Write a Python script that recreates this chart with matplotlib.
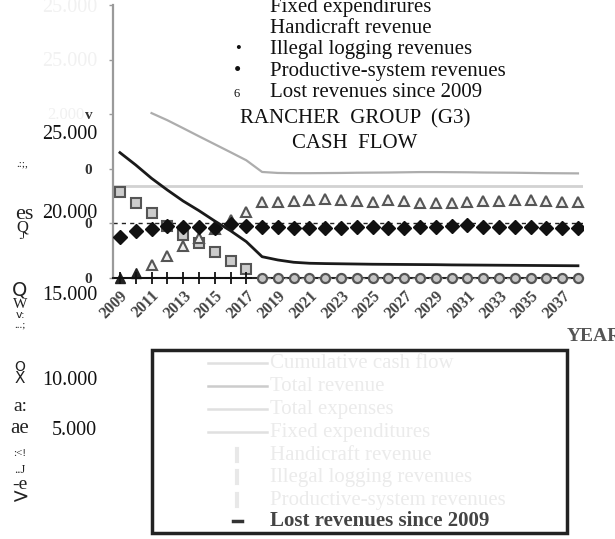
import matplotlib
matplotlib.use('Agg')
import matplotlib.pyplot as plt
from matplotlib.patches import Rectangle
from matplotlib.lines import Line2D

plt.rcParams['font.family'] = 'serif'
plt.rcParams['font.serif'] = ['Liberation Serif', 'DejaVu Serif']

nan = float('nan')
years = list(range(2009, 2039))
cumulative_cash = [11480, 10350, 9130, 8060, 7050, 6170, 5220, 4330, 3330, 1950, 1650, 1440,
                   1350, 1320, 1300, 1280, 1260, 1250, 1240, 1230, 1220, 1200, 1190, 1180,
                   1170, 1160, 1150, 1140, 1130, 1120]
fixed_expenditures = [nan, nan, 15100, 14450, 13720, 12980, 12250, 11520, 10780, 9710,
                      9620, 9600, 9600, 9610, 9620, 9640, 9650, 9660, 9680, 9700,
                      9700, 9690, 9680, 9660, 9650, 9640, 9620, 9600, 9590, 9580]
reference_level = 8450
dashed_level = 5000
productive_revenues = [3780, 4330, 4460, 4760, 4640, 4640, 4550, 4950, 4790, 4640, 4640, 4550,
                       4580, 4550, 4550, 4640, 4640, 4600, 4600, 4640, 4700, 4760, 4860, 4640,
                       4640, 4640, 4700, 4550, 4600, 4600]
illegal_logging = [7900, 6840, 5980, 4760, 3940, 3180, 2350, 1590, 790,
                   0, 0, 0, 0, 0, 0, 0, 0, 0, 0, 0, 0, 0, 0, 0, 0, 0, 0, 0, 0, 0]
handicraft = [0, 430, 1190, 2040, 2930, 3640, 4500, 5300, 6080, 6990,
              6990, 7050, 7140, 7210, 7140, 7050, 6990, 7140, 7050, 6900,
              6840, 6900, 6990, 7050, 7050, 7140, 7140, 7050, 6990, 7000]
lost_years = [2009, 2010, 2011, 2012, 2013, 2014, 2015, 2016, 2017]
lost_revenues = [0, 0, 0, 0, 0, 0, 0, 0, 0]

xtick_years = years[::2]
ytick_values = [0, 5000, 10000, 15000, 20000, 25000]
ytick_labels = ['0', '0', '0', 'v', '', '']
outer_labels = ['25.000', '20.000', '15.000', '10.000', '5.000']

top_legend = ['Fixed expendirures', 'Handicraft revenue', 'Illegal logging revenues',
              'Productive-system revenues', 'Lost revenues since 2009']
box_legend = ['Cumulative cash flow', 'Total revenue', 'Total expenses', 'Fixed expenditures',
              'Handicraft revenue', 'Illegal logging revenues', 'Productive-system revenues',
              'Lost revenues since 2009']

W, H = 615, 539
fig = plt.figure(figsize=(W / 100, H / 100), dpi=100)


def P(x, y):
    return (x / W, 1 - y / H)


# main axes: spine x=113, y from 5 (25000) to 278 (0)
ax = fig.add_axes([113 / W, 1 - 278 / H, 470 / W, 273 / H])
ax.set_xlim(2008.56, 2038.32)
ax.set_ylim(0, 25000)
for s in ['top', 'right']:
    ax.spines[s].set_visible(False)
ax.spines['left'].set_color('#9a9a9a')
ax.spines['left'].set_linewidth(1.6)
ax.spines['bottom'].set_color('#222222')
ax.spines['bottom'].set_linewidth(1.5)

ax.plot(years, fixed_expenditures, color='#adadad', lw=1.6, zorder=2)
ax.axhline(reference_level, color='#d2d2d2', lw=2.0, zorder=1)
ax.axhline(dashed_level, color='#222222', lw=1.0, ls=(0, (3, 3)), zorder=2)

ax.plot(years[:9], illegal_logging[:9], ls='none', marker='s', ms=6.5, mfc='#cccccc',
        mec='#555555', mew=1.5, zorder=4, clip_on=False)
ax.plot(years[9:], illegal_logging[9:], color='#888888', lw=1.0, ls=(0, (2, 2)),
        marker='o', ms=6.5, mfc='#c4c4c4', mec='#555555', mew=1.6, zorder=4, clip_on=False)
ax.plot(years[2:], handicraft[2:], ls='none', marker='^', ms=7.5, mfc='#eeeeee', mec='#555555',
        mew=1.5, zorder=4, clip_on=False)
ax.plot(years[:2], handicraft[:2], ls='none', marker='^', ms=7, mfc='#222222', mec='#222222',
        zorder=4, clip_on=False)
ax.plot(years, productive_revenues, ls='none', marker='D', ms=7, mfc='#111111',
        mec='#111111', zorder=5)
ax.plot(lost_years, lost_revenues, color='#111111', lw=1.2, marker='+', ms=8, mew=1.3,
        zorder=5, clip_on=False)
ax.plot(years, cumulative_cash, color='#1a1a1a', lw=2.0, zorder=6)

ax.set_xticks(xtick_years)
ax.set_xticklabels([str(y) for y in xtick_years], rotation=45, ha='right',
                   rotation_mode='anchor', fontsize=11.5, color='#444444', fontweight='bold')
ax.tick_params(axis='x', length=0, pad=7)
ax.set_yticks(ytick_values)
ax.set_yticklabels(ytick_labels, fontsize=11, color='#333333', fontweight='bold')
ax.tick_params(axis='y', length=3, width=1, color='#9a9a9a', pad=12)

# outer (garbled) y labels
outer_baselines = [139, 218, 300, 385, 435]
for lab, yb in zip(outer_labels, outer_baselines):
    fig.text(*P(97, yb), lab, ha='right', va='baseline', fontsize=14.5, color='#111111')

# ghost smudges left of the spine
for yb in [12, 66]:
    fig.text(*P(97, yb), '25.000', ha='right', va='baseline', fontsize=14.5, color='#f1f1f1')
fig.text(*P(84, 119), '2.000', ha='right', va='baseline', fontsize=12, color='#f1f1f1')

# garbled rotated axis title remnants
garbled = [('.:;,', 22, 166, 8, 'serif'), ('es', 24, 219, 16, 'serif'), ('Q', 22, 231, 12, 'serif'),
           ('.J', 22, 239, 8, 'serif'), ('Q', 20, 296, 14, 'sans-serif'), ('W', 20, 308, 11, 'serif'),
           ('v:', 20, 318, 8, 'sans-serif'), ('...;', 20, 328, 8, 'serif'),
           ('O', 20, 371, 10, 'sans-serif'), ('X', 20, 383, 11, 'sans-serif'),
           ('a:', 20, 411, 14, 'serif'), ('ae', 20, 433, 15, 'serif'), (':<!', 20, 456, 8, 'serif'),
           ('..J', 20, 473, 9, 'serif'), ('-e', 20, 489, 14, 'serif'), ('>', 20, 503, 15, 'sans-serif')]
for t, x, yb, fs, fam in garbled:
    fig.text(*P(x, yb), t, ha='center', va='baseline', fontsize=fs, color='#222222', family=fam)

# top legend text
top_baselines = [12, 33, 54, 76, 97]
for lab, yb in zip(top_legend, top_baselines):
    fig.text(*P(270, yb), lab, ha='left', va='baseline', fontsize=15, color='#111111')
fig.text(*P(238, 53), '\u2022', ha='center', va='baseline', fontsize=12, color='#111111')
fig.text(*P(238, 76), '\u2022', ha='center', va='baseline', fontsize=15, color='#111111')
fig.text(*P(237, 97), '6', ha='center', va='baseline', fontsize=9, color='#111111')

fig.text(*P(355, 123), 'RANCHER  GROUP  (G3)', ha='center', va='baseline', fontsize=15, color='#111111')
fig.text(*P(355, 148), 'CASH  FLOW', ha='center', va='baseline', fontsize=15, color='#111111')
fig.text(*P(567, 341), 'YEAR', ha='left', va='baseline', fontsize=14, color='#555555',
         fontweight='bold')

# boxed legend (faded)
fig.add_artist(Rectangle(P(152, 533), (567 - 152) / W, (533 - 350) / H, transform=fig.transFigure,
                         fill=False, ec='#222222', lw=2.5))
row_centers = [363, 386, 409, 432, 455, 477, 500, 521]
line_cols = ['#e0e0e0', '#cccccc', '#e0e0e0', '#e0e0e0']
for i, (lab, yc) in enumerate(zip(box_legend, row_centers)):
    col = '#444444' if i == 7 else '#ebebeb'
    fig.text(*P(270, yc + 5), lab, ha='left', va='baseline', fontsize=15, color=col,
             fontweight='bold' if i == 7 else 'normal')
    if i < 4:
        fig.add_artist(Line2D([208 / W, 267 / W], [1 - yc / H, 1 - yc / H],
                              transform=fig.transFigure, color=line_cols[i], lw=1.8))
    elif i < 7:
        fig.add_artist(Line2D([237 / W, 237 / W], [1 - (yc - 6) / H, 1 - (yc + 6) / H],
                              transform=fig.transFigure, color='#e8e8e8', lw=3))
    else:
        fig.add_artist(Line2D([233 / W, 242 / W], [1 - yc / H, 1 - yc / H],
                              transform=fig.transFigure, color='#333333', lw=2.5))

fig.savefig('out.png', dpi=100)
